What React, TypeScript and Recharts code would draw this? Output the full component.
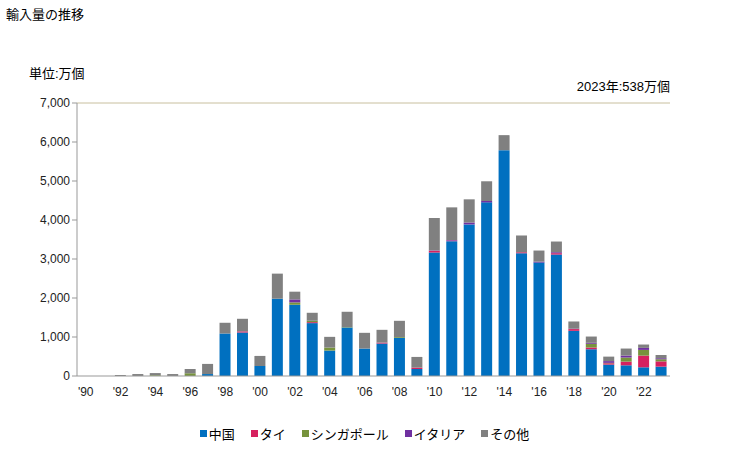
import React from 'react';
import { BarChart, Bar, XAxis, YAxis, ReferenceLine } from 'recharts';

const years = [1990, 1991, 1992, 1993, 1994, 1995, 1996, 1997, 1998, 1999, 2000, 2001, 2002, 2003, 2004, 2005, 2006, 2007, 2008, 2009, 2010, 2011, 2012, 2013, 2014, 2015, 2016, 2017, 2018, 2019, 2020, 2021, 2022, 2023];
const china = [0, 0, 0, 0, 0, 0, 0, 50, 1090, 1115, 257, 1982, 1827, 1356, 652, 1244, 704, 832, 978, 180, 3166, 3457, 3886, 4452, 5790, 3148, 2908, 3114, 1158, 686, 292, 274, 223, 240];
const thai = [0, 0, 0, 0, 0, 0, 0, 0, 0, 30, 0, 0, 0, 25, 0, 0, 0, 25, 0, 35, 45, 15, 0, 0, 0, 25, 0, 35, 45, 45, 35, 95, 300, 135];
const singapore = [0, 0, 0, 0, 20, 0, 70, 0, 0, 0, 0, 0, 60, 35, 77, 10, 0, 0, 20, 0, 0, 0, 0, 0, 0, 0, 0, 0, 0, 95, 10, 105, 146, 55];
const italy = [0, 0, 0, 0, 0, 0, 0, 0, 0, 0, 0, 0, 77, 0, 0, 0, 0, 0, 0, 0, 10, 15, 50, 35, 0, 0, 25, 25, 10, 25, 45, 50, 52, 26];
const others = [0, 0, 25, 50, 55, 50, 110, 260, 275, 322, 258, 643, 198, 205, 275, 393, 403, 327, 417, 274, 830, 837, 594, 506, 386, 430, 284, 274, 185, 161, 115, 180, 86, 82];
const yTicks = [0, 1000, 2000, 3000, 4000, 5000, 6000, 7000];

const series = [
  { key: 'china', name: '中国', color: '#0070c0' },
  { key: 'thai', name: 'タイ', color: '#d6215f' },
  { key: 'singapore', name: 'シンガポール', color: '#77933c' },
  { key: 'italy', name: 'イタリア', color: '#7030a0' },
  { key: 'others', name: 'その他', color: '#808080' },
];

const data = years.map((y, i) => ({
  year: y,
  china: china[i],
  thai: thai[i],
  singapore: singapore[i],
  italy: italy[i],
  others: others[i],
}));

const FONT = '"Liberation Sans", "Noto Sans CJK JP", sans-serif';

export default function App() {
  return (
    <div style={{ position: 'absolute', left: 0, top: 0, width: 729, height: 450, background: '#fff', fontFamily: FONT, color: '#000' }}>
      <div style={{ position: 'absolute', left: 6, top: 4, fontSize: 13 }}>輸入量の推移</div>
      <div style={{ position: 'absolute', left: 29, top: 63, fontSize: 13 }}>単位:万個</div>
      <div style={{ position: 'absolute', right: 59, top: 76, fontSize: 13 }}>2023年:538万個</div>
      <div style={{ position: 'absolute', left: 0, top: 0 }}>
        <BarChart width={729} height={450} data={data} margin={{ top: 103, right: 59, left: 17, bottom: 44 }} barSize={11}>
          <XAxis
            dataKey="year"
            interval={1}
            tickFormatter={(v: number) => `'${String(v).slice(2)}`}
            tickLine={false}
            axisLine={{ stroke: '#999999' }}
            tick={{ fill: '#222', fontSize: 12, fontFamily: FONT }}
            height={30}
            tickMargin={5}
          />
          <YAxis
            domain={[0, 7000]}
            ticks={yTicks}
            interval={0}
            tickFormatter={(v: number) => v.toLocaleString('en-US')}
            axisLine={{ stroke: '#999999' }}
            tickLine={{ stroke: '#999999' }}
            tickSize={5}
            tick={{ fill: '#222', fontSize: 12, fontFamily: FONT }}
            width={60}
          />
          <YAxis yAxisId="r" orientation="right" width={0} tick={false} tickLine={false} axisLine={{ stroke: '#c8bf9e' }} />
          <ReferenceLine y={7000} stroke="#c8bf9e" ifOverflow="extendDomain" />
          {series.map((s) => (
            <Bar key={s.key} dataKey={s.key} name={s.name} stackId="a" fill={s.color} isAnimationActive={false} />
          ))}
        </BarChart>
      </div>
      <div style={{ position: 'absolute', left: 0, top: 424, width: 729, display: 'flex', justifyContent: 'center', fontSize: 13, gap: 16 }}>
        {series.map((s) => (
          <div key={s.key} style={{ display: 'flex', alignItems: 'center' }}>
            <span style={{ display: 'inline-block', width: 7, height: 7, background: s.color, marginRight: 2 }} />
            <span>{s.name}</span>
          </div>
        ))}
      </div>
    </div>
  );
}
